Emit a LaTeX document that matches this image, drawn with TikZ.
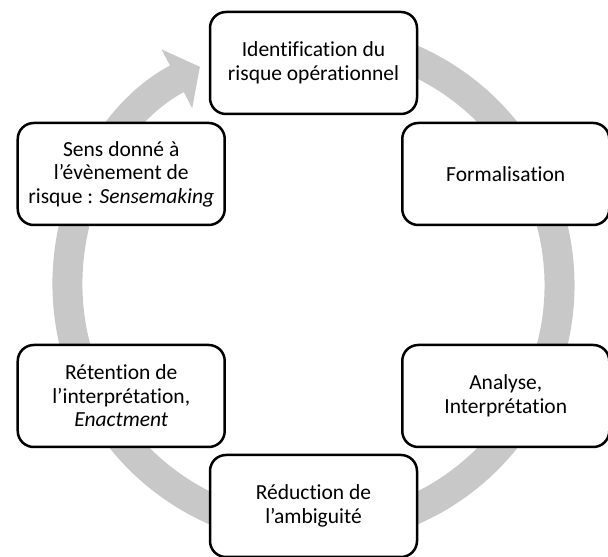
\documentclass[tikz,border=0pt]{standalone}
\usepackage{fontspec}
\setmainfont{Carlito}[Ligatures=NoCommon]
\usetikzlibrary{arrows.meta,calc}
\definecolor{ringgray}{RGB}{200,200,200}
\begin{document}
\begin{tikzpicture}[x=1pt,y=1pt,
every node/.style={font=\fontsize{21.5}{23.5}\selectfont},
mybox/.style={draw,line width=2.5pt,rounded corners=16pt,fill=white,
  minimum width=207pt,minimum height=102pt,align=center,inner sep=0pt},
cyclearrow/.style={ringgray,line width=30pt,-{Triangle[length=26pt,width=65pt]}}]

\useasboundingbox (0,0) rectangle (608,557);
\coordinate (o) at (313.5,272);

% grey ring behind the boxes
\draw[cyclearrow] ($(o)+(100:246)$) arc[start angle=100,end angle=-242.5,radius=246];

\node[mybox] (ident)  at ($(o)+(90:222)$)  {Identification du\\risque opérationnel};
\node[mybox] (form)   at ($(o)+(30:222)$)  {Formalisation};
\node[mybox] (anal)   at ($(o)+(-30:222)$) {Analyse,\\Interprétation};
\node[mybox] (reduc)  at ($(o)+(-90:221)$) {Réduction de\\l’ambiguité};
\node[mybox] (reten)  at ($(o)+(210:222)$) {Rétention de\\l’interprétation,\\\textit{Enactment}};
\node[mybox] (sens)   at ($(o)+(150:222)$) {Sens donné à\\l’évènement de\\risque : \textit{Sensemaking}};

\end{tikzpicture}
\end{document}
